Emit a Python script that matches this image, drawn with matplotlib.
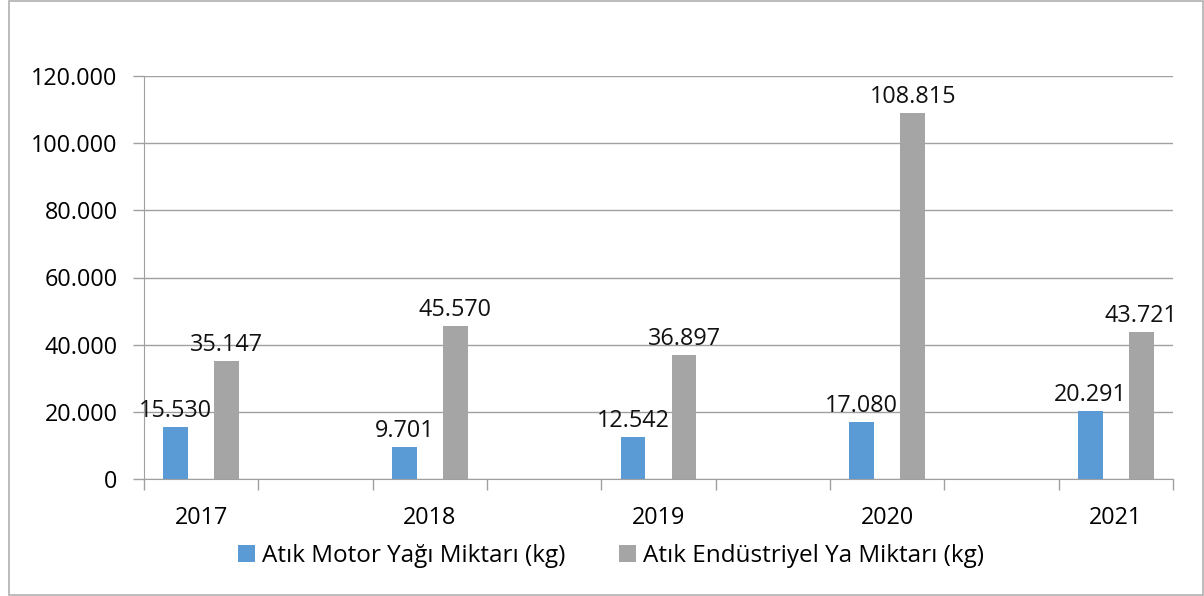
import matplotlib.pyplot as plt
import numpy as np
from matplotlib.patches import Rectangle
from matplotlib.ticker import FuncFormatter

plt.rcParams['font.family'] = ['Open Sans', 'DejaVu Sans']

years = ['2017', '2018', '2019', '2020', '2021']
motor_yagi = [15530, 9701, 12542, 17080, 20291]
endustriyel_yag = [35147, 45570, 36897, 108815, 43721]
series_names = ['Atık Motor Yağı Miktarı (kg)', 'Atık Endüstriyel Ya Miktarı (kg)']

blue = '#5B9BD5'
gray = '#A5A5A5'
line_gray = '#A0A0A0'
fs = 16.8

fig = plt.figure(figsize=(12.04, 5.96), dpi=100)
W, H = 1204, 596

# outer chart border
fig.patches.append(Rectangle((9 / W, 1 / H), (1203 - 9) / W, (595 - 1) / H,
                             transform=fig.transFigure, fill=False,
                             edgecolor='#B0B0B0', linewidth=1.2))

ax = fig.add_axes([144 / W, (H - 479.3) / H, (1173 - 144) / W, (479.3 - 75.7) / H])

# categories sit on every other slot (blank slots between years)
pos = np.arange(len(years)) * 2
off = 0.223
bw = 0.218

b1 = ax.bar(pos - off, motor_yagi, bw, color=blue, label=series_names[0])
b2 = ax.bar(pos + off, endustriyel_yag, bw, color=gray, label=series_names[1])

fmt = lambda v: f'{v:,.0f}'.replace(',', '.')
for bars, vals in ((b1, motor_yagi), (b2, endustriyel_yag)):
    for r, v in zip(bars, vals):
        ax.annotate(fmt(v), (r.get_x() + r.get_width() / 2, v),
                    xytext=(0, 3), textcoords='offset points',
                    ha='center', va='bottom', fontsize=fs, color='#111111')

ax.set_ylim(0, 120000)
ax.set_yticks(np.arange(0, 120001, 20000))
ax.yaxis.set_major_formatter(FuncFormatter(lambda v, p: fmt(v)))
ax.set_xlim(-0.5, pos[-1] + 0.5)

# boundary ticks (no labels) and year labels on minor ticks
ax.set_xticks(np.arange(-0.5, pos[-1] + 1, 1))
ax.set_xticklabels([])
ax.set_xticks(pos, minor=True)
ax.set_xticklabels(years, minor=True)
ax.tick_params(axis='x', which='major', length=8, color=line_gray, width=1)
ax.tick_params(axis='x', which='minor', length=0, pad=19, labelsize=fs)
ax.tick_params(axis='y', length=8, color=line_gray, width=1, pad=11, labelsize=fs)

ax.grid(axis='y', color=line_gray, linewidth=1)
ax.set_axisbelow(True)
for s in ('top', 'right'):
    ax.spines[s].set_visible(False)
ax.spines['left'].set_color(line_gray)
ax.spines['bottom'].set_color(line_gray)

fig.legend(loc='center', bbox_to_anchor=(611 / W, (H - 556) / H), ncol=2,
           frameon=False, fontsize=17.5, handlelength=0.7, handleheight=0.7,
           handletextpad=0.3, columnspacing=2.2)

fig.savefig('out.png', dpi=100)
